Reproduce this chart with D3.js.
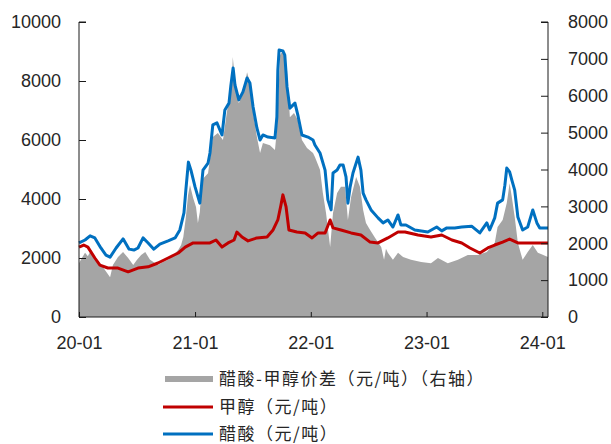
<!DOCTYPE html>
<html><head><meta charset="utf-8">
<script src="https://cdn.jsdelivr.net/npm/d3@7"></script>
<style>
html,body{margin:0;padding:0;background:#fff;}
svg{display:block;}
</style></head>
<body>
<svg id="c" width="611" height="444"></svg>
<script>
// ---- data ----
const acidDates = ["2020-01-01","2020-01-20","2020-02-05","2020-02-20","2020-03-10","2020-03-26","2020-04-08","2020-04-27","2020-05-19","2020-06-07","2020-06-22","2020-07-05","2020-07-21","2020-08-06","2020-08-24","2020-09-12","2020-10-08","2020-10-30","2020-11-14","2020-11-27","2020-12-03","2020-12-11","2020-12-19","2021-01-01","2021-01-16","2021-01-26","2021-02-11","2021-02-17","2021-02-26","2021-03-11","2021-03-27","2021-04-05","2021-04-18","2021-04-24","2021-05-01","2021-05-07","2021-05-19","2021-06-01","2021-06-14","2021-06-23","2021-07-03","2021-07-15","2021-07-25","2021-08-03","2021-08-19","2021-09-10","2021-09-16","2021-09-19","2021-09-23","2021-10-05","2021-10-11","2021-10-18","2021-10-27","2021-11-12","2021-11-21","2021-12-04","2021-12-23","2022-01-08","2022-01-14","2022-01-30","2022-02-15","2022-02-24","2022-03-06","2022-03-12","2022-03-25","2022-04-03","2022-04-13","2022-04-22","2022-04-28","2022-05-05","2022-05-14","2022-05-30","2022-06-08","2022-06-15","2022-06-24","2022-07-10","2022-08-01","2022-08-17","2022-09-01","2022-09-17","2022-10-03","2022-10-12","2022-10-28","2022-11-25","2023-01-05","2023-02-02","2023-02-18","2023-03-06","2023-03-31","2023-04-22","2023-05-23","2023-06-18","2023-07-10","2023-07-19","2023-08-04","2023-08-13","2023-08-29","2023-09-05","2023-09-11","2023-09-20","2023-09-27","2023-10-06","2023-10-16","2023-10-31","2023-11-16","2023-12-02","2023-12-15","2023-12-24","2024-01-19"];
const acidValues = [2510,2610,2750,2680,2340,2100,2030,2340,2650,2300,2270,2340,2680,2510,2300,2470,2580,2680,2950,3530,4310,5250,4980,4410,3860,4980,5220,5560,6510,6580,6170,7020,7250,7860,8440,7860,7360,7630,8100,7930,7120,6410,6000,6170,6100,6070,6780,8370,9050,9020,8880,7800,7080,7250,6850,6170,6100,6000,5830,5560,4980,3970,3630,4880,4980,5150,5150,4750,3860,4410,4880,5420,4980,4200,3970,3630,3360,3190,3290,3050,3460,3120,3120,2950,2880,3050,2920,3020,3020,3050,3080,2850,3190,2950,3360,3860,3970,4470,5050,4920,4640,4300,3390,2950,3050,3630,3190,3020,3020];

const methDates = ["2020-01-01","2020-01-16","2020-01-29","2020-02-20","2020-03-07","2020-04-01","2020-05-03","2020-06-04","2020-07-05","2020-08-06","2020-09-06","2020-10-08","2020-11-09","2020-12-01","2020-12-26","2021-01-16","2021-02-17","2021-03-08","2021-03-27","2021-04-15","2021-05-04","2021-05-13","2021-05-29","2021-06-17","2021-07-15","2021-08-16","2021-09-04","2021-09-19","2021-09-29","2021-10-05","2021-10-15","2021-10-24","2021-11-18","2021-12-14","2022-01-05","2022-01-24","2022-02-15","2022-03-03","2022-03-12","2022-04-06","2022-05-08","2022-06-08","2022-07-07","2022-08-01","2022-09-01","2022-10-03","2022-10-25","2022-12-05","2023-01-15","2023-02-18","2023-03-22","2023-04-22","2023-05-18","2023-06-18","2023-07-13","2023-08-04","2023-08-29","2023-09-20","2023-10-16","2023-11-29","2024-01-19"];
const methValues = [2370,2440,2370,2000,1760,1660,1660,1530,1660,1700,1830,2000,2170,2370,2510,2510,2510,2610,2370,2510,2610,2880,2710,2580,2680,2710,2950,3290,3800,4140,3730,2950,2880,2850,2680,2850,2850,3290,3020,2950,2850,2780,2540,2510,2680,2880,2880,2780,2710,2780,2610,2510,2340,2170,2340,2440,2540,2640,2510,2510,2510];

const spreadDates = ["2020-01-01","2020-01-10","2020-01-20","2020-01-29","2020-02-08","2020-02-20","2020-03-01","2020-03-14","2020-04-08","2020-04-17","2020-05-03","2020-05-19","2020-06-04","2020-06-20","2020-07-02","2020-07-15","2020-07-28","2020-08-12","2020-09-06","2020-09-22","2020-10-08","2020-10-24","2020-11-09","2020-11-18","2020-11-25","2020-12-03","2020-12-10","2020-12-16","2020-12-26","2021-01-04","2021-01-10","2021-01-16","2021-01-23","2021-02-11","2021-02-26","2021-03-14","2021-03-30","2021-04-11","2021-04-27","2021-04-30","2021-05-10","2021-05-19","2021-06-01","2021-06-14","2021-06-23","2021-07-02","2021-07-15","2021-07-25","2021-08-03","2021-08-25","2021-09-10","2021-09-16","2021-09-26","2021-10-05","2021-10-18","2021-10-27","2021-11-09","2021-11-21","2021-12-04","2021-12-20","2022-01-08","2022-01-14","2022-01-30","2022-02-08","2022-02-18","2022-03-03","2022-03-12","2022-03-25","2022-04-06","2022-04-19","2022-04-28","2022-05-08","2022-05-24","2022-06-05","2022-06-15","2022-06-24","2022-07-07","2022-07-23","2022-08-11","2022-08-20","2022-08-26","2022-09-01","2022-09-17","2022-10-03","2022-10-19","2022-11-13","2022-12-15","2023-01-15","2023-02-06","2023-03-09","2023-04-10","2023-05-11","2023-06-12","2023-07-10","2023-08-04","2023-08-13","2023-08-29","2023-09-11","2023-09-20","2023-09-27","2023-10-06","2023-10-16","2023-10-31","2023-11-16","2023-12-02","2023-12-18","2024-01-19"];
const spreadValues = [1460,1600,1740,1650,1820,1600,1490,1380,1080,1410,1630,1760,1600,1410,1550,1680,1760,1550,1410,1490,1550,1680,1820,1950,2170,2710,3310,3580,3230,2980,2550,2850,3720,3900,4880,4990,4800,5530,6430,7050,6160,5800,6070,6640,6350,5610,4880,4450,4720,4660,4530,5070,7100,7240,6700,5420,5530,5340,4800,4580,4450,4340,3990,3360,2820,1900,2820,3360,3530,3530,2630,3250,3800,3530,2900,2550,2360,2140,1900,1550,1850,1740,1550,1740,1630,1550,1490,1460,1600,1460,1550,1680,1680,1760,2010,2440,2630,3090,3630,3250,2710,2010,1550,1760,1950,1740,1630];

const leftTicks = [0,2000,4000,6000,8000,10000];
const rightTicks = [0,1000,2000,3000,4000,5000,6000,7000,8000];
const xTickDates = ["2020-01-01","2021-01-01","2022-01-01","2023-01-01","2024-01-01"];
const legendLabels = ["醋酸-甲醇价差（元/吨）（右轴）","甲醇（元/吨）","醋酸（元/吨）"];

// ---- chart ----
const parse = d3.timeParse("%Y-%m-%d");
const svg = d3.select("#c");
const L = 79, R = 548, T = 22, B = 317;
const x = d3.scaleTime().domain([parse("2020-01-01"), parse("2024-01-19")]).range([L, R]);
const yL = d3.scaleLinear().domain([0, 10000]).range([B, T]);
const yR = d3.scaleLinear().domain([0, 8000]).range([B, T]);

const spread = spreadDates.map((d, i) => ({d: parse(d), v: spreadValues[i]}));
const meth = methDates.map((d, i) => ({d: parse(d), v: methValues[i]}));
const acid = acidDates.map((d, i) => ({d: parse(d), v: acidValues[i]}));

svg.append("path").datum(spread)
  .attr("fill", "#a5a5a5")
  .attr("d", d3.area().x(p => x(p.d)).y0(B).y1(p => yR(p.v)));

svg.append("path").datum(meth)
  .attr("fill", "none").attr("stroke", "#c00000").attr("stroke-width", 3).attr("stroke-linejoin", "round")
  .attr("d", d3.line().x(p => x(p.d)).y(p => yL(p.v)));

svg.append("path").datum(acid)
  .attr("fill", "none").attr("stroke", "#0070c0").attr("stroke-width", 3).attr("stroke-linejoin", "round")
  .attr("d", d3.line().x(p => x(p.d)).y(p => yL(p.v)));

const font = "'Liberation Sans', Arial, sans-serif";
const axL = svg.append("g").attr("transform", `translate(${L},0)`)
  .call(d3.axisRight(yL).tickValues(leftTicks).tickSize(7).tickFormat(d3.format("d")));
axL.selectAll("text").attr("x", -18).attr("text-anchor", "end");
const axR = svg.append("g").attr("transform", `translate(${R},0)`)
  .call(d3.axisLeft(yR).tickValues(rightTicks).tickSize(7).tickFormat(d3.format("d")));
axR.selectAll("text").attr("x", 20).attr("text-anchor", "start");
const axX = svg.append("g").attr("transform", `translate(0,${B})`)
  .call(d3.axisTop(x).tickValues(xTickDates.map(parse)).tickSize(5).tickFormat(d3.timeFormat("%y-%m")));
axX.selectAll("text").attr("y", 26).attr("dy", "0.35em");
svg.selectAll(".domain").attr("stroke", "#1a1a1a");
svg.selectAll(".tick line").attr("stroke", "#1a1a1a");
svg.selectAll(".tick text").attr("fill", "#262626").style("font-family", font).style("font-size", "18px");
axL.select(".domain").attr("d", `M7,${T}H0V${B}`);
axR.select(".domain").attr("d", `M-7,${T}H0V${B}`);
axX.select(".domain").attr("d", `M${L},0H${R}`);

// legend
const lg = svg.append("g");
const lgY = [379, 407, 434];
lg.append("rect").attr("x", 165).attr("y", lgY[0] - 3).attr("width", 48).attr("height", 6).attr("fill", "#a5a5a5");
lg.append("line").attr("x1", 163).attr("x2", 213).attr("y1", lgY[1]).attr("y2", lgY[1]).attr("stroke", "#c00000").attr("stroke-width", 3);
lg.append("line").attr("x1", 163).attr("x2", 213).attr("y1", lgY[2]).attr("y2", lgY[2]).attr("stroke", "#0070c0").attr("stroke-width", 3);
lg.selectAll("text").data(legendLabels).enter().append("text")
  .attr("x", 219).attr("y", (d, i) => lgY[i]).attr("dy", "0.36em")
  .attr("fill", "#262626")
  .style("font-family", "'Noto Sans CJK SC', sans-serif").style("font-size", "17px")
  .style("letter-spacing", "1.5px")
  .text(d => d);
</script>
</body></html>
